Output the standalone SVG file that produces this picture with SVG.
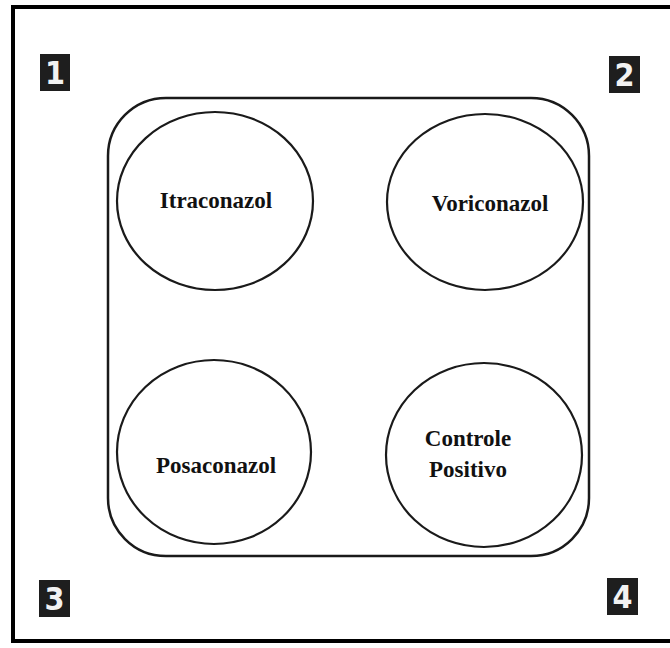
<svg xmlns="http://www.w3.org/2000/svg" width="670" height="648" viewBox="0 0 670 648">
<style>
.frame{stroke:#000;stroke-width:4;fill:none}
.plate{fill:none;stroke:#1a1a1a;stroke-width:2.5}
.well{fill:none;stroke:#1a1a1a;stroke-width:2.2}
.lbl{font-family:"Liberation Serif",serif;font-weight:bold;font-size:23px;fill:#111;text-anchor:middle}
.badge{fill:#1e1e1e}
.num{font-family:"DejaVu Sans Condensed","DejaVu Sans",sans-serif;font-weight:bold;font-size:32px;fill:#f2f2f2;text-anchor:middle}
</style>
<rect width="670" height="648" fill="#fff"/>
<g id="frame">
<line class="frame" x1="11" y1="7" x2="670" y2="7"/>
<line class="frame" x1="13" y1="5" x2="13" y2="643"/>
<line class="frame" x1="11" y1="641" x2="670" y2="641"/>
</g>
<g id="badge1"><rect class="badge" x="40" y="54" width="30" height="37"/><text class="num" x="55" y="84">1</text></g>
<g id="badge2"><rect class="badge" x="609" y="56" width="31" height="37"/><text class="num" x="624.5" y="86">2</text></g>
<g id="badge3"><rect class="badge" x="39" y="580" width="31" height="37"/><text class="num" x="54.5" y="610">3</text></g>
<g id="badge4"><rect class="badge" x="607" y="578" width="31" height="37"/><text class="num" x="622.5" y="608">4</text></g>
<g id="plate"><rect class="plate" x="108" y="98" width="481" height="458" rx="58" ry="58"/></g>
<g id="itraconazol"><ellipse class="well" cx="215" cy="201" rx="98" ry="89"/><text class="lbl" x="216" y="208">Itraconazol</text></g>
<g id="voriconazol"><ellipse class="well" cx="485" cy="202" rx="98" ry="88"/><text class="lbl" x="490" y="211">Voriconazol</text></g>
<g id="posaconazol"><ellipse class="well" cx="214" cy="452" rx="97" ry="92"/><text class="lbl" x="216" y="473">Posaconazol</text></g>
<g id="controle"><ellipse class="well" cx="484" cy="455" rx="98" ry="92"/><text class="lbl" x="468" y="446">Controle</text><text class="lbl" x="468" y="477">Positivo</text></g>
</svg>
